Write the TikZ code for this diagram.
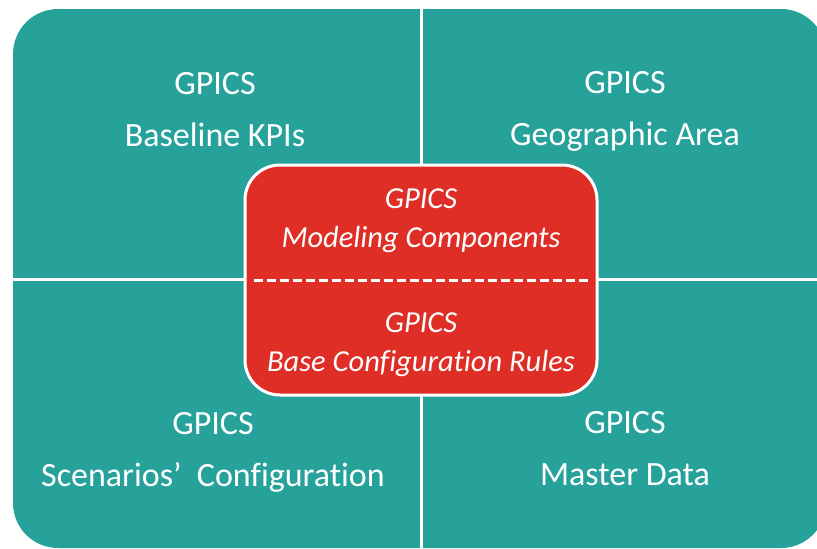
\documentclass[tikz,border=0pt]{standalone}
\usepackage{fontspec}
\setmainfont{Carlito}[RawFeature=-liga]
\usetikzlibrary{positioning}
\definecolor{quadteal}{RGB}{38,162,155}
\definecolor{corered}{RGB}{222,46,38}

\begin{document}
\begin{tikzpicture}[x=1pt, y=-1pt,
    quad/.style={text=white, align=center, font=\fontsize{34}{52}\selectfont},
    corelabel/.style={text=white, align=center, font=\fontsize{30.5}{39}\selectfont\itshape}]
    \useasboundingbox (0,0) rectangle (817,549);
    \clip (0,0) rectangle (817,549);
    \fill[quadteal, rounded corners=45pt] (13,9) rectangle (826,548);
    \draw[white, line width=3pt] (421,9) -- (421,548);
    \draw[white, line width=3pt] (13,279) -- (826,279);
    \node[quad] (kpi) at (215,110) {GPICS\\Baseline KPIs};
    \node[quad] (geo) at (625,111) {GPICS\\Geographic Area};
    \node[quad] (scen) at (213,452) {GPICS\\Scenarios’~ Configuration};
    \node[quad] (mdata) at (625,449) {GPICS\\Master Data};
    \node[draw=white, line width=3pt, fill=corered, rounded corners=35pt, minimum width=352pt, minimum height=230pt] (core) at (421,280) {};
    \node[corelabel] (model) at (421,221) {GPICS\\Modeling Components};
    \node[corelabel] (rules) at (421,345) {GPICS\\Base Configuration Rules};
    \draw[white, line width=3pt, dash pattern=on 9pt off 4pt] ([xshift=10pt]core.west) -- ([xshift=-10pt]core.east);
\end{tikzpicture}
\end{document}
